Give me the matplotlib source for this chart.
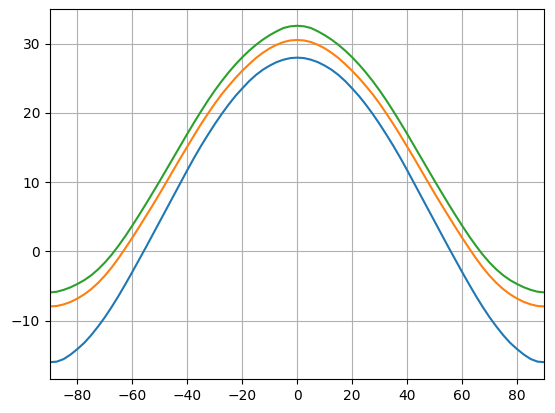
import numpy as np
from matplotlib import pyplot as plt

# latitude (deg) from the south pole to the equator, read every 2.5 degrees
lat_half = [-90, -87.5, -85, -82.5, -80, -77.5, -75, -72.5, -70, -67.5, -65, -62.5,
            -60, -57.5, -55, -52.5, -50, -47.5, -45, -42.5, -40, -37.5, -35, -32.5,
            -30, -27.5, -25, -22.5, -20, -17.5, -15, -12.5, -10, -7.5, -5, -2.5, 0]

blue_half = [-16.0, -15.92, -15.55, -14.9, -14.1, -13.2, -12.1, -10.85, -9.5, -8.0,
             -6.4, -4.7, -2.95, -1.15, 0.65, 2.5, 4.35, 6.2, 8.05, 9.9, 11.75, 13.55,
             15.25, 16.85, 18.4, 19.85, 21.2, 22.45, 23.55, 24.6, 25.5, 26.25, 26.85,
             27.35, 27.7, 27.93, 28.0]
orange_half = [-7.95, -7.88, -7.65, -7.3, -6.8, -6.2, -5.45, -4.55, -3.5, -2.3,
               -0.95, 0.5, 2.0, 3.55, 5.15, 6.75, 8.4, 10.1, 11.8, 13.5, 15.15, 16.8,
               18.4, 19.9, 21.35, 22.7, 23.9, 25.05, 26.1, 27.05, 27.95, 28.7, 29.35,
               29.85, 30.25, 30.48, 30.55]
green_half = [-5.92, -5.82, -5.55, -5.18, -4.7, -4.15, -3.45, -2.6, -1.6, -0.45,
              0.85, 2.25, 3.75, 5.3, 6.9, 8.55, 10.2, 11.9, 13.6, 15.3, 17.0, 18.65,
              20.25, 21.8, 23.25, 24.6, 25.85, 27.0, 28.05, 29.0, 29.85, 30.6, 31.25,
              31.8, 32.28, 32.52, 32.6]

# the profiles are symmetric about the equator
lat = lat_half + [-v for v in lat_half[-2::-1]]
blue = blue_half + blue_half[-2::-1]
orange = orange_half + orange_half[-2::-1]
green = green_half + green_half[-2::-1]

fig = plt.figure(figsize=(5.55, 4.13), dpi=100)
ax = fig.add_axes([0.090, 0.0823, 0.891, 0.896])
ax.plot(lat, blue)
ax.plot(lat, orange)
ax.plot(lat, green)
ax.set_xlim(-90, 90)
ax.grid(True)
fig.savefig('out.png')
plt.close(fig)
